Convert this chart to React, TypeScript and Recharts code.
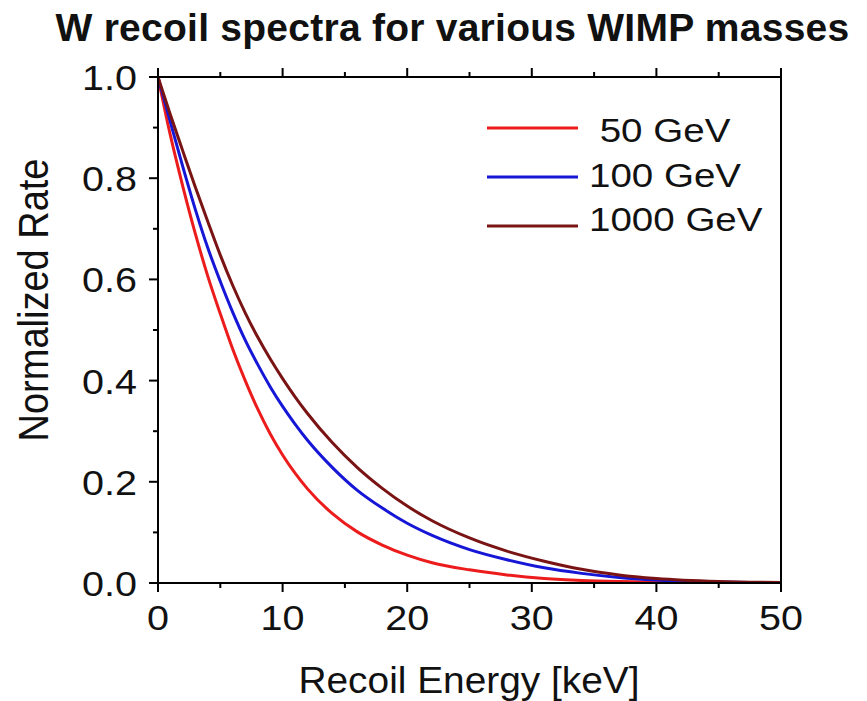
import { Legend, Line, LineChart, XAxis, YAxis } from 'recharts';

const energy = [0, 1, 2, 3, 4, 5, 6, 7, 8, 9, 10, 11, 12, 14, 16, 18, 20, 22, 25, 28, 31, 34, 37, 40, 45, 50];
const rate50 = [1, 0.884, 0.783, 0.69, 0.606, 0.532, 0.462, 0.4, 0.344, 0.295, 0.253, 0.217, 0.186, 0.137, 0.101, 0.075, 0.055, 0.04, 0.026, 0.016, 0.009, 0.005, 0.003, 0.002, 0.001, 0];
const rate100 = [1, 0.91, 0.822, 0.738, 0.662, 0.596, 0.535, 0.48, 0.432, 0.388, 0.349, 0.314, 0.282, 0.228, 0.183, 0.148, 0.118, 0.094, 0.066, 0.046, 0.03, 0.019, 0.011, 0.006, 0.002, 0];
const rate1000 = [1, 0.925, 0.853, 0.782, 0.714, 0.648, 0.588, 0.534, 0.486, 0.443, 0.404, 0.368, 0.335, 0.277, 0.228, 0.187, 0.152, 0.123, 0.089, 0.063, 0.043, 0.027, 0.016, 0.009, 0.003, 0.001];

const xTicks = [0, 5, 10, 15, 20, 25, 30, 35, 40, 45, 50];
const yTicks = [0, 0.1, 0.2, 0.3, 0.4, 0.5, 0.6, 0.7, 0.8, 0.9, 1.0];

const series = [
  { key: 'm50', name: ' 50 GeV', color: '#ec1c1c' },
  { key: 'm100', name: '100 GeV', color: '#1616d6' },
  { key: 'm1000', name: '1000 GeV', color: '#7a1414' },
];

const data = energy.map((x, i) => ({ x, m50: rate50[i], m100: rate100[i], m1000: rate1000[i] }));

const FONT = '"Liberation Sans", Arial, sans-serif';

function BottomTick(props: any) {
  const { x, y, payload } = props;
  const major = payload.value % 10 === 0;
  return (
    <g>
      <line x1={x} x2={x} y1={y} y2={y + (major ? 9 : 5)} stroke='#000' strokeWidth={2} />
      {major && (
        <text
          transform={`translate(${x},${y + 47}) scale(1.13,1)`}
          textAnchor='middle'
          fontSize={35}
          fontFamily={FONT}
          fill='#111'
        >
          {payload.value}
        </text>
      )}
    </g>
  );
}

function TopTick(props: any) {
  const { x, y, payload } = props;
  const major = payload.value % 10 === 0;
  return <line x1={x} x2={x} y1={y} y2={y - (major ? 9 : 5)} stroke='#000' strokeWidth={2} />;
}

function LeftTick(props: any) {
  const { x, y, index, payload } = props;
  const major = index % 2 === 0;
  return (
    <g>
      <line x1={x} x2={x - (major ? 9 : 5)} y1={y} y2={y} stroke='#000' strokeWidth={2} />
      {major && (
        <text
          transform={`translate(${x - 21},${y + 13}) scale(1.13,1)`}
          textAnchor='end'
          fontSize={35}
          fontFamily={FONT}
          fill='#111'
        >
          {payload.value.toFixed(1)}
        </text>
      )}
    </g>
  );
}

function renderLegend(props: any) {
  const { payload } = props;
  return (
    <svg width={320} height={150} style={{ display: 'block' }}>
      {payload.map((entry: any, i: number) => (
        <g key={i}>
          <line x1={17} x2={108} y1={28 + 49 * i} y2={28 + 49 * i} stroke={entry.color} strokeWidth={3} />
          <text
            transform={`translate(119,${42 + 44.5 * i}) scale(1.15,1)`}
            xmlSpace='preserve'
            style={{ whiteSpace: 'pre' }}
            fontSize={33.5}
            fontFamily={FONT}
            fill='#111'
          >
            {entry.value}
          </text>
        </g>
      ))}
    </svg>
  );
}

export default function App() {
  return (
    <div
      style={{
        position: 'absolute',
        left: 0,
        top: 0,
        width: 867,
        height: 701,
        background: '#fff',
        overflow: 'hidden',
      }}
    >
      <div
        style={{
          position: 'absolute',
          left: 38,
          width: 829,
          top: 6,
          textAlign: 'center',
          fontFamily: FONT,
          fontWeight: 'bold',
          fontSize: 39,
          letterSpacing: 0.25,
          lineHeight: '44px',
          color: '#111',
          whiteSpace: 'nowrap',
        }}
      >
        W recoil spectra for various WIMP masses
      </div>
      <LineChart width={867} height={701} data={data} margin={{ top: 67, right: 76, bottom: 68, left: 58 }}>
        <XAxis
          xAxisId='bottom'
          dataKey='x'
          type='number'
          domain={[0, 50]}
          allowDataOverflow
          ticks={xTicks}
          height={50}
          tickSize={0}
          tickMargin={0}
          tickLine={false}
          tick={<BottomTick />}
          axisLine={{ stroke: '#000', strokeWidth: 2 }}
          label={{
            content: () => (
              <text
                transform='translate(469,693) scale(1.05,1)'
                textAnchor='middle'
                fontSize={37}
                fontFamily={FONT}
                fill='#111'
              >
                Recoil Energy [keV]
              </text>
            ),
          }}
        />
        <XAxis
          xAxisId='top'
          orientation='top'
          dataKey='x'
          type='number'
          domain={[0, 50]}
          allowDataOverflow
          ticks={xTicks}
          height={10}
          tickSize={0}
          tickMargin={0}
          tickLine={false}
          tick={<TopTick />}
          axisLine={{ stroke: '#000', strokeWidth: 2 }}
        />
        <YAxis
          yAxisId='left'
          type='number'
          domain={[0, 1]}
          allowDataOverflow
          ticks={yTicks}
          width={100}
          tickSize={0}
          tickMargin={0}
          tickLine={false}
          tick={<LeftTick />}
          axisLine={{ stroke: '#000', strokeWidth: 2 }}
          label={{
            content: () => (
              <text
                transform='translate(48,300) scale(1.14,1) rotate(-90)'
                textAnchor='middle'
                fontSize={38}
                fontFamily={FONT}
                fill='#111'
              >
                Normalized Rate
              </text>
            ),
          }}
        />
        <YAxis
          yAxisId='right'
          orientation='right'
          type='number'
          domain={[0, 1]}
          allowDataOverflow
          width={10}
          tick={false}
          tickLine={false}
          axisLine={{ stroke: '#000', strokeWidth: 2 }}
        />
        <Legend
          layout='vertical'
          align='center'
          verticalAlign='middle'
          content={renderLegend}
          wrapperStyle={{ left: 470, top: 100, width: 320, height: 150 }}
        />
        {series.map((s) => (
          <Line
            key={s.key}
            xAxisId='bottom'
            yAxisId='left'
            type='monotone'
            dataKey={s.key}
            name={s.name}
            stroke={s.color}
            strokeWidth={3}
            dot={false}
            activeDot={false}
            isAnimationActive={false}
          />
        ))}
      </LineChart>
    </div>
  );
}
